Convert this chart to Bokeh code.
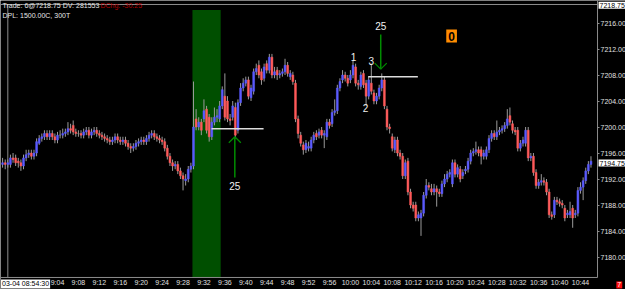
from bokeh.plotting import figure
from bokeh.models import Range1d, LinearAxis, FixedTicker, PrintfTickFormatter, Label, ColumnDataSource
from bokeh.embed import file_html
from bokeh.resources import INLINE

FONT = "Liberation Sans"

# ---- data -------------------------------------------------------------
first_bar_minute = -6.5     # minutes relative to 09:00 (08:53:30)
bar_minutes = 0.5           # 300-tick bars, roughly 30 s apart

bar_open = [7194.25,7194.5,7194.25,7194.25,7195.25,7195.25,7194.75,7194.5,7194.0,7195.25,
7195.75,7196,7195.5,7196,7197.5,7198.25,7198.5,7199,7198.5,7199,
7198.5,7198,7198.75,7198.75,7199,7199.25,7199.75,7200.25,7199.25,7199,
7199,7198.75,7199.25,7199.5,7198.75,7199.25,7199.5,7199,7198.75,7198.5,
7198.25,7198,7197.75,7198,7198.5,7198,7197.75,7198,7197.5,7197,
7196.75,7197,7197.5,7197.75,7198,7197.75,7198.25,7198.75,7199,7198.5,
7198.25,7198,7197.75,7196.75,7195.5,7194.5,7194,7194.25,7193.25,7192.5,
7191.75,7192,7193.5,7194,7201.25,7200,7200.75,7201.25,7202.75,7201.5,
7198.5,7200.75,7201.5,7201.25,7203.25,7204.75,7204,7201.25,7201.5,7203,
7199.5,7203.75,7206,7206.75,7207.25,7204.5,7205.5,7208.5,7209.5,7208.5,
7207.5,7209.75,7208.75,7210.75,7208,7208.75,7208,7208.25,7208.5,7209.5,
7207.75,7208,7206.75,7201.25,7198.75,7197.25,7196.5,7196.75,7196.75,7198,
7199,7198.75,7199.5,7198.75,7198.5,7200.75,7200.5,7202.25,7202.5,7206,
7207.25,7208,7207.5,7207.25,7208,7209.25,7206.75,7206.25,7208.25,7206.75,
7204.75,7206.75,7205.25,7204,7204.75,7206,7207.25,7202.75,7200,7198.5,
7196.5,7198,7196,7195.5,7192.5,7194.75,7190,7188,7188,7186,
7186,7186.75,7189.5,7191,7190.5,7190,7190.5,7190,7189.75,7191.25,
7192,7192.75,7191.25,7194.5,7192.75,7193.5,7192.5,7193.25,7193.5,7194.75,
7196,7196.25,7196.5,7196.5,7195.5,7195.5,7196.5,7198.25,7199,7198.5,
7199.25,7199.5,7199.75,7200.25,7201.75,7200.5,7199.5,7199.5,7196.75,7197.5,
7197.5,7199.5,7195.25,7195.5,7193,7191,7191.5,7191.75,7191.5,7190,
7186.5,7186.5,7188.75,7188.5,7188.25,7187.5,7186.5,7186.5,7187.5,7186.5,
7186.75,7190.25,7190.75,7191.75,7193.25,7194.25]

bar_high = [7195.25,7195,7195,7195.75,7196,7195.75,7195.25,7195,7195.75,7196.5,
7196.5,7196.5,7196.5,7198.25,7198.75,7199,7199.5,7199.5,7199.5,7199.5,
7199,7199.25,7199.5,7199.75,7199.75,7200.75,7200.5,7201,7199.75,7199.5,
7199.5,7199.75,7200,7200,7199.75,7200,7200,7199.5,7199.25,7199,
7198.75,7198.5,7198.5,7199,7199,7198.5,7198.5,7198.5,7198,7197.5,
7197.5,7198,7198.25,7198.5,7198.5,7198.75,7199.25,7199.5,7199.5,7199,
7198.75,7198.5,7198.25,7197.25,7196,7195,7194.75,7194.75,7193.75,7193,
7192.75,7194,7194.5,7207,7202.75,7201.5,7201.25,7204.25,7203.25,7202,
7201.5,7203,7202.75,7204,7206.25,7208.25,7204.75,7202,7204,7203.75,
7204.25,7206.75,7207.5,7207.75,7207.75,7206.5,7209,7209.75,7210.25,7209,
7209.75,7210.25,7211.25,7211.25,7209.25,7209.25,7208.75,7209,7210.5,7210,
7208.75,7208.5,7207.25,7201.75,7199.25,7197.75,7198,7197.75,7198.5,7199.25,
7199.5,7199.75,7200,7199.5,7201.25,7201.25,7202.75,7204.25,7206.5,7207.5,
7208.75,7208.5,7208,7208.75,7210.25,7209.75,7207.25,7208.5,7208.75,7207.25,
7207.75,7209.75,7205.75,7205.25,7206.5,7208.25,7207.75,7203.25,7200.5,7199,
7198.5,7198.5,7196.5,7196,7195,7195.25,7190.5,7188.5,7188.5,7187,
7187.25,7190,7192,7191.5,7191.25,7191.25,7191,7190.5,7191.75,7192.75,
7193.25,7193.5,7195,7195,7194.25,7194,7193.5,7194,7195.25,7196.5,
7196.75,7197.75,7197,7197,7196.5,7197,7198.75,7199.5,7199.5,7201,
7200,7200.25,7200.75,7202.75,7203,7201,7200,7200,7198,7198.5,
7200,7200,7196,7196,7193.5,7192,7192.75,7192.25,7192,7190.5,
7187,7189.25,7189.25,7189,7188.75,7188,7187.25,7188.5,7188,7187.25,
7190.75,7191.5,7192.25,7193.75,7194.75,7195.5]

bar_low = [7193.75,7193.5,7193.75,7193.75,7194.5,7194,7193.75,7193.25,7193.5,7194.75,
7195.25,7195,7195,7195.5,7197.25,7197.75,7198,7198,7198,7198,
7197.5,7197.5,7198.25,7198.25,7198.5,7198.75,7199,7198.75,7198.5,7198.5,
7198.25,7198.25,7198.75,7198.25,7198.25,7198.75,7198.5,7198.25,7198,7197.75,
7197.5,7197.25,7197.25,7197.5,7197.5,7197.25,7197.25,7197,7196.5,7196,
7196.25,7196.5,7197,7197.25,7197.25,7197.25,7197.75,7198.25,7198,7197.75,
7197.5,7197.25,7196.25,7195,7194,7193.25,7193.5,7192.75,7192,7190.25,
7191,7191.5,7193,7193.5,7199.5,7199.5,7198.75,7200.75,7199,7197.75,
7198,7200.25,7200.75,7200.75,7202.75,7201,7200.75,7200.25,7201,7198.25,
7199,7203.25,7205.5,7206.25,7204.25,7204,7205,7208,7207.5,7206.5,
7207,7208.25,7208.25,7207.5,7207.5,7207.25,7207.5,7207.75,7208,7207.75,
7207.25,7206.5,7200.75,7198.25,7197,7195.75,7196,7196.25,7196.25,7197.5,
7198,7198.25,7198.25,7196.75,7198,7199.75,7200,7201.75,7202,7205.5,
7206.75,7207,7206.25,7206.75,7207.5,7206.25,7205.75,7205.75,7206,7203.25,
7204.25,7205,7203.5,7203.5,7204.25,7205.5,7202.75,7199.5,7199,7196.25,
7196,7195.5,7195,7192,7192,7189.5,7187.5,7187,7185.5,7185.5,
7183.25,7186.25,7189,7190.25,7189.5,7189.5,7187.75,7189.25,7189.25,7190.75,
7191.5,7192.25,7190.75,7192.25,7192.25,7191.5,7192,7192.75,7193,7194.25,
7195.5,7195.75,7195.5,7194.25,7195,7195,7196,7197.75,7198,7198,
7198.75,7199,7199.25,7199.75,7200.25,7199,7198.75,7196.25,7196.25,7197,
7197,7194.75,7194.75,7192.5,7190.5,7190.5,7191,7191,7189.5,7186,
7185.75,7186,7188,7187.75,7187.5,7185.5,7186,7186,7184.5,7186,
7186.25,7189.75,7188.75,7191.25,7192.75,7193.75]

bar_close = [7194.5,7194.25,7194.5,7195.25,7195,7194.5,7194.5,7194,7195.25,7195.75,
7196,7195.5,7196,7197.75,7198.25,7198.5,7199,7198.5,7199,7198.5,
7198,7198.75,7198.75,7199,7199.25,7199.75,7199.5,7199.25,7199,7199,
7198.75,7199.25,7199.5,7198.75,7199.25,7199.5,7199,7198.75,7198.5,7198.25,
7198,7197.75,7198,7198.5,7198,7197.75,7198,7197.5,7197,7196.75,
7197,7197.5,7197.75,7198,7197.75,7198.25,7198.75,7199,7198.5,7198.25,
7198,7197.75,7196.75,7195.5,7194.5,7194,7194.25,7193.25,7192.5,7192,
7192,7193.5,7194,7200,7200,7200.75,7199.5,7202.5,7199.5,7198.5,
7200.75,7201.5,7201.75,7203.25,7205.75,7201.5,7201.25,7201,7203.25,7198.75,
7203.75,7206,7206.75,7207.25,7204.75,7206,7208.5,7209,7208,7207.25,
7209.25,7208.75,7210.75,7208,7208.5,7208,7208.25,7208.5,7209.5,7208.25,
7208.25,7207,7201.25,7199,7197.5,7196.5,7197.5,7197,7198,7198.75,
7198.5,7199.25,7198.75,7199,7200.75,7200.25,7202.25,7202.5,7206,7207,
7208,7207.5,7206.75,7208,7209.5,7206.75,7206.5,7208,7206.5,7204.75,
7207.25,7205.5,7204,7204.75,7206,7207.25,7203.25,7200,7199.75,7196.75,
7198,7196,7195.5,7192.5,7194.5,7190,7188,7187.5,7186,7186.5,
7186.75,7189.5,7191,7190.75,7190,7190.5,7190,7189.75,7191.25,7192,
7192.75,7193,7194.5,7192.75,7193.75,7192,7193,7193.5,7194.75,7196,
7196.25,7196.5,7196,7195.5,7196,7196.5,7198.25,7199,7198.5,7199.25,
7199.5,7199.75,7200.25,7201.25,7200.75,7199.5,7199.25,7196.75,7197.5,7198,
7199.5,7195.25,7195.5,7193,7191,7191.5,7191.75,7191.5,7190,7186.5,
7186.25,7188.75,7188.5,7188.25,7188,7186,7186.75,7187,7186,7186.75,
7190.25,7190.75,7191.75,7193.25,7194.25,7194.75]

price_ticks = [7180, 7184, 7188, 7192, 7196, 7200, 7204, 7208, 7212, 7216]
time_ticks = [4, 8, 12, 16, 20, 24, 28, 32, 36, 40, 44, 48, 52, 56, 60, 64, 68, 72, 76, 80, 84, 88, 92, 96, 100, 104]
time_labels = ["9:04", "9:08", "9:12", "9:16", "9:20", "9:24", "9:28", "9:32", "9:36", "9:40", "9:44", "9:48", "9:52",
               "9:56", "10:00", "10:04", "10:08", "10:12", "10:16", "10:20", "10:24", "10:28", "10:32", "10:36",
               "10:40", "10:44"]

session_start_minute = -5.5            # 08:54:30
opening_window = [29.8, 35.2]          # shaded window (minutes)
opening_window_top = 7218.0

level_prices = [7199.75, 7207.75]
level_start = [33.45, 63.4]
level_end = [43.4, 72.9]

arrow_times = [37.9, 65.8]
arrow_tails = [7192.25, 7214.25]
arrow_tips = [7198.5, 7208.9]
arrow_texts = ["25", "25"]
arrow_text_prices = [7191.0, 7215.6]

swing_texts = ["1", "2", "3"]
swing_times = [60.6, 62.9, 64.0]
swing_prices = [7210.75, 7203.0, 7210.1]

last_price = 7194.75
session_high_marker = 7218.75

# price/time window of the chart pane
X0, X1 = -6.9, 107.25
Y0, Y1 = 7176.85, 7218.85
# whole canvas in the same units (pane + axis strips) so nothing is clipped
CX0, CX1 = -6.9, 112.6
CY0, CY1 = 7175.0, 7219.465

# ---- figure -------------------------------------------------------------
p = figure(width=625, height=289, x_range=Range1d(CX0, CX1), y_range=Range1d(CY0, CY1),
           output_backend="svg", toolbar_location=None,
           x_axis_location=None, y_axis_location=None,
           background_fill_color="black", border_fill_color="black",
           min_border_left=0, min_border_right=0, min_border_top=0, min_border_bottom=0)
p.grid.visible = False
p.outline_line_color = None

yaxis = LinearAxis(ticker=FixedTicker(ticks=price_ticks), formatter=PrintfTickFormatter(format="%.2f"),
                   fixed_location=X1,
                   major_label_text_font_size="7px", major_label_text_color="#e0e0e0",
                   major_label_text_font=FONT, axis_line_color=None,
                   major_tick_line_color="#8c8c8c", major_tick_out=2, major_tick_in=0,
                   minor_tick_out=0, minor_tick_in=0, major_label_standoff=1)
p.add_layout(yaxis, "right")

xaxis = LinearAxis(ticker=FixedTicker(ticks=time_ticks), fixed_location=Y0,
                   major_label_overrides={k: v for k, v in zip(time_ticks, time_labels)},
                   major_label_text_font_size="7px", major_label_text_color="#e0e0e0",
                   major_label_text_font=FONT, axis_line_color=None,
                   major_tick_out=0, major_tick_in=0, minor_tick_out=0, minor_tick_in=0,
                   major_label_standoff=2)
p.add_layout(xaxis, "below")

# opening window shading
p.quad(left=[opening_window[0]], right=[opening_window[1]], top=[opening_window_top], bottom=[Y0],
       fill_color="#004f00", line_color=None)

# pane border and session start marker line
p.segment(x0=[X0, X0, X1, X0, session_start_minute], y0=[Y1, Y0, CY1, Y0, Y0],
          x1=[X1, X1, X1, X0, session_start_minute], y1=[Y1, Y0, Y0, Y1, Y1],
          line_color="#8c8c8c", line_width=1)

# candles
t = [first_bar_minute + bar_minutes * i for i in range(len(bar_close))]
colors = ["#5a5aff" if c > o else ("#ff5a5a" if c < o else "#8a8a8a") for o, c in zip(bar_open, bar_close)]
src = ColumnDataSource(dict(t=t, o=bar_open, h=bar_high, l=bar_low, c=bar_close,
                            top=[max(o, c) for o, c in zip(bar_open, bar_close)],
                            bottom=[min(o, c) for o, c in zip(bar_open, bar_close)],
                            color=colors))
p.segment(x0="t", y0="l", x1="t", y1="h", line_color="#9a9a9a", line_width=1, source=src)
p.vbar(x="t", width=0.36, top="top", bottom="bottom", fill_color="color", line_color="color",
       line_width=0.5, source=src)

# horizontal levels
p.segment(x0=level_start, y0=level_prices, x1=level_end, y1=level_prices, line_color="#dcdcdc", line_width=1.5)

# arrows
head_dx, head_dy = 1.15, 0.92
hx0, hy0, hx1, hy1 = [], [], [], []
for x, tail, tip in zip(arrow_times, arrow_tails, arrow_tips):
    s = 1 if tail > tip else -1
    for side in (-1, 1):
        hx0.append(x); hy0.append(tip)
        hx1.append(x + side * head_dx); hy1.append(tip + s * head_dy)
p.segment(x0=arrow_times, y0=arrow_tails, x1=arrow_times, y1=arrow_tips, line_color="#008c00", line_width=1.5)
p.segment(x0=hx0, y0=hy0, x1=hx1, y1=hy1, line_color="#008c00", line_width=1.2)

for txt, x, y in zip(arrow_texts, arrow_times, arrow_text_prices):
    p.add_layout(Label(x=x, y=y, text=txt, text_color="#f0f0f0", text_font=FONT, text_font_size="10px",
                       text_align="center", text_baseline="middle"))
for txt, x, y in zip(swing_texts, swing_times, swing_prices):
    p.add_layout(Label(x=x, y=y, text=txt, text_color="#f0f0f0", text_font=FONT, text_font_size="10px",
                       text_align="center", text_baseline="middle"))

# orange status box
p.add_layout(Label(x=79.35, y=7214.0, text="0", text_color="black", text_font=FONT, text_font_size="12px",
                   text_font_style="bold", text_align="center", text_baseline="middle",
                   background_fill_color="#ff8c00", padding=2))

# header texts
p.add_layout(Label(x=-6.52, y=7218.75, text="Trade: 6@7218.75 DV: 281553",
                   text_color="#e6e6e6", text_font=FONT, text_font_size="7px", text_baseline="middle"))
p.add_layout(Label(x=12.2, y=7218.75, text="DChg: -30.25",
                   text_color="#b40000", text_font=FONT, text_font_size="7px", text_baseline="middle"))
p.add_layout(Label(x=-6.52, y=7217.1, text="DPL: 1500.00C, 300T",
                   text_color="#e6e6e6", text_font=FONT, text_font_size="7px", text_baseline="middle"))

# price markers on the right axis
p.add_layout(Label(x=X1 + 0.2, y=session_high_marker, text="7218.75", text_color="black",
                   text_font=FONT, text_font_size="7px", text_baseline="middle",
                   background_fill_color="white", padding=1))
p.add_layout(Label(x=X1 + 0.2, y=last_price - 0.3, text="7194.75", text_color="black",
                   text_font=FONT, text_font_size="7px", text_baseline="middle",
                   background_fill_color="white", padding=1))

# bottom corner labels
p.add_layout(Label(x=-6.8, y=Y0 - 1.0, text="03-04 08:54:30", text_color="black",
                   text_font=FONT, text_font_size="7px", text_baseline="middle",
                   background_fill_color="white", padding=1))
p.add_layout(Label(x=X1 + 3.6, y=Y0 - 1.15, text="7", text_color="white",
                   text_font=FONT, text_font_size="7px", text_baseline="middle",
                   background_fill_color="#ff1010", padding=1))

open("out.html", "w").write(file_html(p, INLINE))
